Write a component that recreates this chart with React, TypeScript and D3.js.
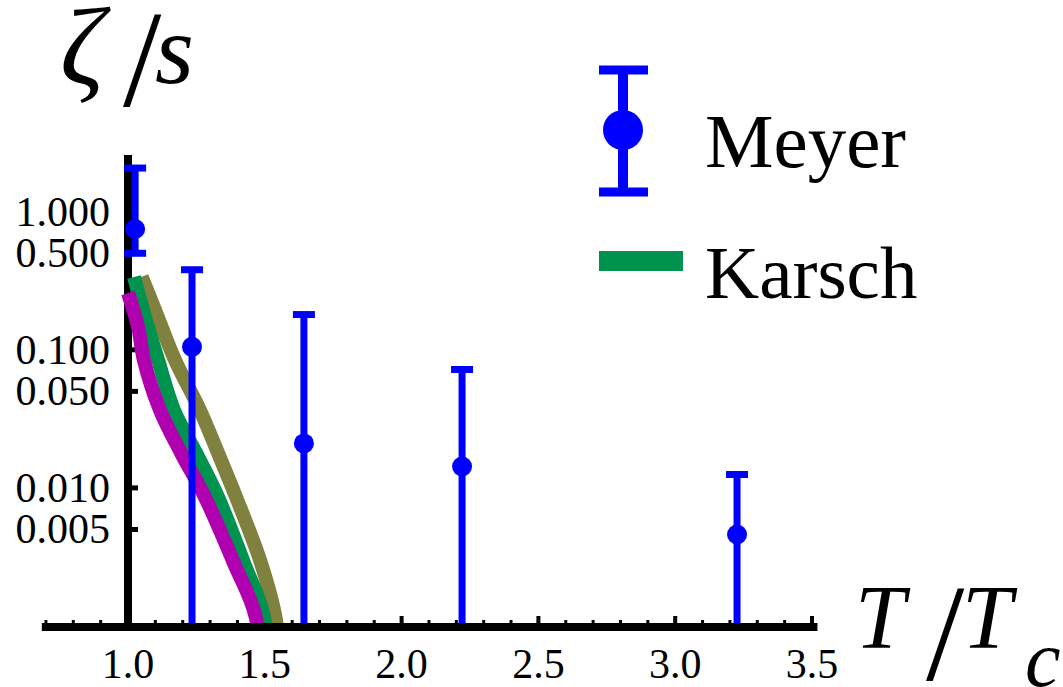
import * as d3 from 'd3';

// Meyer lattice points (T/Tc, zeta/s, upper and lower ends of the error bar)
const meyerT = [1.026, 1.234, 1.643, 2.221, 3.226];
const meyerVal = [0.75, 0.105, 0.021, 0.0143, 0.0046];
const meyerHi = [2.07, 0.38, 0.18, 0.072, 0.0125];
const meyerLo = [0.5, 0.0001, 0.0001, 0.0001, 0.0001];

// three model curves
const oliveT = [1.05, 1.099, 1.172, 1.263, 1.329, 1.395, 1.486, 1.541, 1.56];
const oliveVal = [0.338, 0.194, 0.0843, 0.0366, 0.0179, 0.00859, 0.00286, 0.0011, 0.0003];
const greenT = [1.022, 1.055, 1.11, 1.168, 1.249, 1.329, 1.424, 1.497, 1.517];
const greenVal = [0.337, 0.194, 0.0843, 0.0366, 0.0179, 0.00859, 0.00286, 0.00116, 0.0003];
const magentaT = [1.0, 1.037, 1.058, 1.117, 1.194, 1.281, 1.387, 1.467, 1.487];
const magentaVal = [0.258, 0.146, 0.0843, 0.0366, 0.0179, 0.00859, 0.00286, 0.00116, 0.0003];

const yTicks = [0.005, 0.01, 0.05, 0.1, 0.5, 1];
const xTicks = [1.0, 1.5, 2.0, 2.5, 3.0, 3.5];

const blue = '#0000ff';
const olive = '#80803f';
const green = '#00924f';
const magenta = '#b000b0';
const serif = '"Liberation Serif", "Times New Roman", serif';

const width = 1063;
const height = 687;

export default function App() {
  const x = d3.scaleLinear().domain([1, 3.5]).range([128, 812]);
  const y = d3.scaleLog().domain([0.001, 1]).range([626, 211.7]);

  const xAxisY = y(0.001) + 1;
  const yAxisX = x(1);
  const clipBottom = xAxisY - 4;

  const line = d3
    .line<[number, number]>()
    .x((d) => x(d[0]))
    .y((d) => y(d[1]))
    .curve(d3.curveCatmullRom.alpha(0.5));

  const curves = [
    { color: olive, pts: oliveT.map((t, i) => [t, oliveVal[i]] as [number, number]) },
    { color: green, pts: greenT.map((t, i) => [t, greenVal[i]] as [number, number]) },
    { color: magenta, pts: magentaT.map((t, i) => [t, magentaVal[i]] as [number, number]) },
  ];

  const minorTicks = d3.range(7, 36).map((v) => v / 10);

  return (
    <svg
      width={width}
      height={height}
      style={{ position: 'absolute', left: 0, top: 0, background: '#fff' }}
    >
      <defs>
        <clipPath id="plot">
          <rect x={0} y={0} width={width} height={clipBottom} />
        </clipPath>
      </defs>

      {/* x axis */}
      <line x1={x(0.685)} x2={x(3.52)} y1={xAxisY} y2={xAxisY} stroke="#000" strokeWidth={8} />
      {minorTicks.map((t) => (
        <line
          key={'m' + t}
          x1={x(t)}
          x2={x(t)}
          y1={xAxisY - 4}
          y2={xAxisY - 7}
          stroke="#000"
          strokeWidth={3}
        />
      ))}
      {xTicks.map((t) => (
        <g key={'x' + t}>
          <line x1={x(t)} x2={x(t)} y1={xAxisY - 4} y2={xAxisY - 11} stroke="#000" strokeWidth={4} />
          <text x={x(t)} y={678} textAnchor="middle" fontFamily={serif} fontSize={42}>
            {t.toFixed(1)}
          </text>
        </g>
      ))}

      {/* y axis */}
      <line x1={yAxisX} x2={yAxisX} y1={y(2.57)} y2={xAxisY + 4} stroke="#000" strokeWidth={8} />
      {yTicks.map((t) => (
        <g key={'y' + t}>
          <line x1={yAxisX} x2={yAxisX + 10} y1={y(t)} y2={y(t)} stroke="#000" strokeWidth={5} />
          <text x={110} y={y(t) + 14} textAnchor="end" fontFamily={serif} fontSize={42}>
            {d3.format('.3f')(t)}
          </text>
        </g>
      ))}

      {/* data */}
      <g clipPath="url(#plot)">
        {curves.map((c) => (
          <path key={c.color} d={line(c.pts) || ''} fill="none" stroke={c.color} strokeWidth={14} />
        ))}
        {meyerT.map((t, i) => (
          <g key={'e' + i}>
            <line
              x1={x(t)}
              x2={x(t)}
              y1={y(meyerHi[i])}
              y2={y(Math.max(meyerLo[i], 0.0005))}
              stroke={blue}
              strokeWidth={7}
            />
            <line x1={x(t) - 11} x2={x(t) + 11} y1={y(meyerHi[i])} y2={y(meyerHi[i])} stroke={blue} strokeWidth={7} />
            {meyerLo[i] > 0.001 && (
              <line x1={x(t) - 11} x2={x(t) + 11} y1={y(meyerLo[i])} y2={y(meyerLo[i])} stroke={blue} strokeWidth={7} />
            )}
            <circle cx={x(t)} cy={y(meyerVal[i])} r={10} fill={blue} />
          </g>
        ))}
      </g>

      {/* axis labels */}
      <g fontFamily={serif} fontStyle="italic">
        <text x={60} y={84} fontSize={110}>ζ</text>
        <text x={123} y={106} fontStyle="normal" fontSize={138}>/</text>
        <text x={155} y={83} fontSize={100}>s</text>
      </g>
      <g fontFamily={serif} fontStyle="italic" fontSize={90}>
        <text x={855} y={648}>T</text>
        <text x={926} y={680} fontStyle="normal" fontSize={138}>/</text>
        <text x={962} y={648}>T</text>
        <text x={1025} y={686} fontSize={80}>c</text>
      </g>

      {/* legend */}
      <line x1={623} x2={623} y1={70} y2={192} stroke={blue} strokeWidth={10} />
      <line x1={599} x2={648} y1={70} y2={70} stroke={blue} strokeWidth={9} />
      <line x1={599} x2={648} y1={192} y2={192} stroke={blue} strokeWidth={9} />
      <circle cx={623} cy={130} r={20} fill={blue} />
      <text x={705} y={167} fontFamily={serif} fontSize={77}>Meyer</text>
      <line x1={599} x2={683} y1={261} y2={261} stroke={green} strokeWidth={20} />
      <text x={705} y={298} fontFamily={serif} fontSize={75}>Karsch</text>
    </svg>
  );
}
